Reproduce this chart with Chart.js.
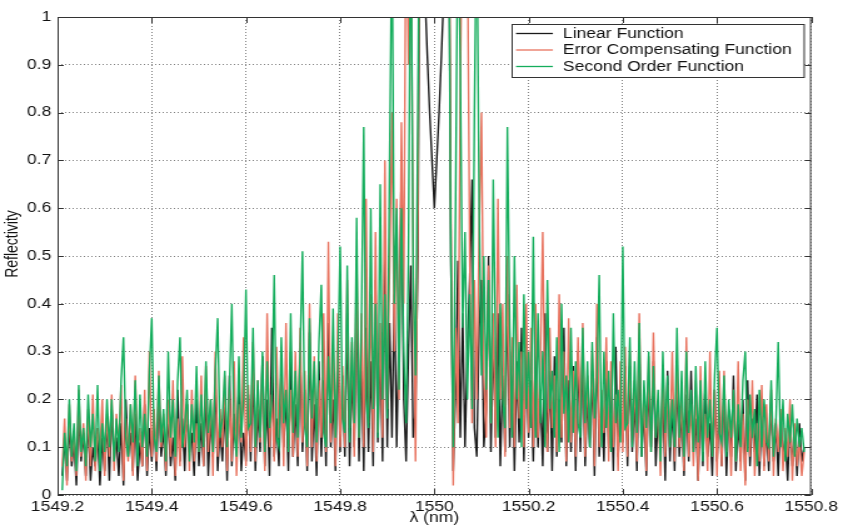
<!DOCTYPE html>
<html lang="en">
<head>
<meta charset="UTF-8">
<title>Reflectivity</title>
<script src="https://cdn.jsdelivr.net/npm/chart.js"></script>
<style>
    html, body { margin: 0; padding: 0; background: #fff; overflow: hidden; }
    /* the source figure is stretched sideways, so draw narrow and widen */
    #wrap { width: 674px; height: 532px; transform: scaleX(1.2507); transform-origin: 0 0; }
</style>
</head>
<body>
<div id="wrap"><canvas id="chart" width="674" height="532"></canvas></div>

<script>
    // sampling grid: 1549.21 .. 1550.785 nm, every 0.005 nm
    var lambdaStart = 1549.21;
    var lambdaStep = 0.005;

    var seriesNames = ['Linear Function', 'Error Compensating Function', 'Second Order Function'];

    var linearVals = [
        0.04, 0.12, 0.03, 0.15, 0.06, 0.11, 0.02, 0.17, 0.07, 0.13,
        0.04, 0.16, 0.03, 0.1, 0.06, 0.14, 0.02, 0.12, 0.05, 0.16,
        0.03, 0.18, 0.07, 0.12, 0.04, 0.15, 0.02, 0.2, 0.08, 0.13,
        0.05, 0.17, 0.03, 0.11, 0.06, 0.19, 0.04, 0.14, 0.07, 0.16,
        0.05, 0.21, 0.08, 0.14, 0.04, 0.18, 0.06, 0.12, 0.03, 0.22,
        0.07, 0.16, 0.05, 0.19, 0.09, 0.13, 0.04, 0.2, 0.06, 0.15,
        0.06, 0.22, 0.04, 0.16, 0.08, 0.24, 0.05, 0.14, 0.07, 0.19,
        0.03, 0.25, 0.06, 0.17, 0.09, 0.23, 0.05, 0.13, 0.07, 0.21,
        0.07, 0.26, 0.05, 0.18, 0.09, 0.29, 0.06, 0.2, 0.04, 0.35,
        0.08, 0.16, 0.06, 0.27, 0.1, 0.21, 0.05, 0.3, 0.08, 0.19,
        0.06, 0.3, 0.09, 0.22, 0.05, 0.34, 0.07, 0.19, 0.04, 0.28,
        0.08, 0.24, 0.06, 0.36, 0.1, 0.2, 0.05, 0.32, 0.09, 0.25,
        0.08, 0.38, 0.06, 0.26, 0.1, 0.42, 0.07, 0.3, 0.05, 0.35,
        0.09, 0.28, 0.06, 0.45, 0.11, 0.32, 0.07, 0.5, 0.1, 0.36,
        0.12, 0.42, 0.1, 0.35, 0.68, 0.2, 0.07, 0.3, 0.48, 0.12,
        0.18, 0.5, 1.4, 1.3, 1.05, 0.92, 0.8, 0.7, 0.6, 0.7,
        0.8, 0.92, 1.05, 1.3, 1.4, 0.5, 0.05, 0.22, 0.49, 0.12,
        0.38, 0.1, 0.3, 0.45, 0.66, 0.14, 0.08, 0.35, 0.45, 0.1,
        0.18, 0.5, 0.09, 0.33, 0.12, 0.38, 0.06, 0.25, 0.09, 0.42,
        0.1, 0.3, 0.05, 0.28, 0.11, 0.35, 0.07, 0.3, 0.12, 0.24,
        0.07, 0.32, 0.1, 0.22, 0.06, 0.38, 0.09, 0.26, 0.05, 0.29,
        0.08, 0.2, 0.11, 0.35, 0.06, 0.24, 0.09, 0.27, 0.05, 0.3,
        0.09, 0.3, 0.06, 0.21, 0.1, 0.26, 0.04, 0.33, 0.08, 0.19,
        0.07, 0.28, 0.1, 0.22, 0.05, 0.31, 0.08, 0.18, 0.11, 0.27,
        0.06, 0.27, 0.09, 0.2, 0.05, 0.3, 0.08, 0.18, 0.04, 0.24,
        0.1, 0.28, 0.06, 0.17, 0.09, 0.22, 0.03, 0.26, 0.07, 0.19,
        0.05, 0.25, 0.08, 0.18, 0.04, 0.21, 0.07, 0.26, 0.09, 0.16,
        0.03, 0.2, 0.06, 0.23, 0.08, 0.15, 0.04, 0.22, 0.07, 0.19,
        0.06, 0.22, 0.04, 0.17, 0.08, 0.25, 0.05, 0.15, 0.07, 0.2,
        0.03, 0.24, 0.06, 0.16, 0.09, 0.21, 0.04, 0.18, 0.06, 0.14,
        0.05, 0.2, 0.07, 0.15, 0.04, 0.17, 0.08, 0.12,
        0.03, 0.16, 0.06, 0.13, 0.04, 0.15, 0.07, 0.1
    ];

    var errorVals = [
        0.06, 0.16, 0.02, 0.19, 0.07, 0.13, 0.04, 0.22, 0.08, 0.15,
        0.03, 0.18, 0.06, 0.21, 0.05, 0.14, 0.09, 0.2, 0.04, 0.17,
        0.08, 0.21, 0.05, 0.17, 0.1, 0.23, 0.03, 0.16, 0.07, 0.19,
        0.04, 0.25, 0.09, 0.14, 0.06, 0.22, 0.05, 0.3, 0.08, 0.18,
        0.07, 0.26, 0.1, 0.17, 0.05, 0.2, 0.08, 0.24, 0.04, 0.16,
        0.06, 0.29, 0.1, 0.19, 0.05, 0.22, 0.07, 0.15, 0.09, 0.25,
        0.06, 0.27, 0.09, 0.2, 0.04, 0.3, 0.08, 0.18, 0.1, 0.25,
        0.05, 0.22, 0.07, 0.28, 0.04, 0.19, 0.11, 0.33, 0.06, 0.23,
        0.09, 0.32, 0.07, 0.24, 0.11, 0.27, 0.05, 0.38, 0.1, 0.21,
        0.07, 0.31, 0.12, 0.25, 0.06, 0.36, 0.09, 0.22, 0.08, 0.3,
        0.08, 0.35, 0.11, 0.26, 0.06, 0.4, 0.1, 0.29, 0.07, 0.24,
        0.12, 0.38, 0.09, 0.53, 0.11, 0.3, 0.06, 0.38, 0.1, 0.27,
        0.1, 0.45, 0.14, 0.32, 0.08, 0.5, 0.12, 0.38, 0.1, 0.62,
        0.15, 0.42, 0.09, 0.55, 0.13, 0.36, 0.12, 0.7, 0.18, 0.48,
        0.8, 0.3, 0.62, 0.2, 0.78, 0.4, 1.3, 0.9, 1.2, 0.5,
        0.07, 0.6, 1.6, 1.6, 1.6, 1.6, 1.6, 1.6, 1.6, 1.6,
        1.6, 1.6, 1.6, 1.6, 1.5, 0.6, 0.02, 0.35, 0.15, 0.85,
        1.3, 1.5, 1.2, 0.5, 0.15, 0.45, 0.2, 0.55, 0.8, 0.25,
        0.12, 0.48, 0.15, 0.38, 0.1, 0.62, 0.2, 0.4, 0.08, 0.5,
        0.14, 0.33, 0.1, 0.44, 0.16, 0.3, 0.1, 0.4, 0.13, 0.35,
        0.1, 0.4, 0.12, 0.28, 0.55, 0.15, 0.09, 0.35, 0.14, 0.25,
        0.09, 0.42, 0.12, 0.3, 0.07, 0.37, 0.11, 0.26, 0.08, 0.33,
        0.14, 0.36, 0.08, 0.25, 0.12, 0.3, 0.06, 0.4, 0.1, 0.22,
        0.13, 0.33, 0.07, 0.28, 0.1, 0.21, 0.05, 0.28, 0.09, 0.31,
        0.08, 0.3, 0.11, 0.24, 0.07, 0.38, 0.1, 0.21, 0.05, 0.29,
        0.09, 0.34, 0.12, 0.2, 0.04, 0.27, 0.08, 0.23, 0.1, 0.3,
        0.07, 0.28, 0.1, 0.2, 0.05, 0.33, 0.08, 0.19, 0.06, 0.24,
        0.03, 0.27, 0.09, 0.17, 0.05, 0.3, 0.08, 0.22, 0.04, 0.26,
        0.06, 0.26, 0.09, 0.18, 0.04, 0.22, 0.07, 0.28, 0.05, 0.17,
        0.02, 0.2, 0.08, 0.24, 0.04, 0.15, 0.07, 0.23, 0.05, 0.19,
        0.07, 0.22, 0.04, 0.16, 0.09, 0.18, 0.05, 0.14,
        0.08, 0.2, 0.03, 0.15, 0.06, 0.12, 0.04, 0.09
    ];

    var secondVals = [
        0.01, 0.13, 0.06, 0.2, 0.08, 0.15, 0.05, 0.23, 0.09, 0.14,
        0.06, 0.21, 0.1, 0.17, 0.07, 0.23, 0.05, 0.15, 0.09, 0.2,
        0.1, 0.2, 0.07, 0.16, 0.09, 0.24, 0.33, 0.12, 0.08, 0.19,
        0.11, 0.24, 0.06, 0.21, 0.1, 0.17, 0.08, 0.26, 0.37, 0.12,
        0.09, 0.25, 0.11, 0.18, 0.07, 0.3, 0.12, 0.2, 0.08, 0.24,
        0.33, 0.1, 0.14, 0.22, 0.07, 0.19, 0.11, 0.27, 0.09, 0.21,
        0.1, 0.28, 0.13, 0.2, 0.09, 0.26, 0.37, 0.12, 0.16, 0.26,
        0.1, 0.23, 0.4, 0.13, 0.08, 0.29, 0.12, 0.2, 0.43, 0.14,
        0.15, 0.35, 0.1, 0.24, 0.12, 0.3, 0.09, 0.28, 0.14, 0.2,
        0.46, 0.12, 0.1, 0.33, 0.15, 0.22, 0.09, 0.38, 0.13, 0.26,
        0.12, 0.3, 0.51, 0.14, 0.1, 0.37, 0.16, 0.28, 0.11, 0.32,
        0.44, 0.13, 0.1, 0.29, 0.15, 0.39, 0.12, 0.27, 0.52, 0.16,
        0.13, 0.48, 0.11, 0.33, 0.15, 0.58, 0.12, 0.35, 0.77, 0.2,
        0.14, 0.6, 0.18, 0.4, 0.12, 0.65, 0.2, 0.42, 0.16, 0.7,
        1.2, 0.4, 0.6, 0.22, 0.6, 0.3, 0.15, 0.5, 1.3, 0.45,
        0.25, 0.8, 1.5, 1.5, 1.5, 1.5, 1.5, 1.5, 1.5, 1.5,
        1.5, 1.5, 1.5, 1.5, 1.3, 0.5, 0.1, 0.6, 1.25, 0.9,
        0.35, 0.55, 0.2, 0.42, 0.18, 0.8, 1.25, 0.6, 0.25, 0.5,
        0.22, 0.45, 0.15, 0.66, 0.3, 0.12, 0.4, 0.2, 0.14, 0.77,
        0.35, 0.12, 0.5, 0.2, 0.32, 0.1, 0.42, 0.18, 0.3, 0.14,
        0.54, 0.12, 0.38, 0.15, 0.3, 0.1, 0.45, 0.18, 0.26, 0.12,
        0.33, 0.09, 0.4, 0.17, 0.25, 0.11, 0.35, 0.13, 0.28, 0.15,
        0.12, 0.35, 0.15, 0.28, 0.1, 0.32, 0.16, 0.24, 0.46, 0.1,
        0.3, 0.14, 0.26, 0.09, 0.38, 0.15, 0.22, 0.11, 0.52, 0.14,
        0.15, 0.33, 0.1, 0.28, 0.13, 0.36, 0.08, 0.24, 0.14, 0.3,
        0.09, 0.27, 0.12, 0.22, 0.07, 0.3, 0.13, 0.25, 0.1, 0.2,
        0.1, 0.35, 0.12, 0.26, 0.08, 0.3, 0.13, 0.22, 0.09, 0.27,
        0.11, 0.24, 0.07, 0.28, 0.12, 0.2, 0.08, 0.25, 0.35, 0.13,
        0.11, 0.25, 0.08, 0.2, 0.12, 0.22, 0.07, 0.19, 0.1, 0.24,
        0.3, 0.09, 0.21, 0.12, 0.18, 0.06, 0.22, 0.1, 0.2, 0.11,
        0.1, 0.24, 0.08, 0.15, 0.32, 0.1, 0.2, 0.07,
        0.17, 0.11, 0.19, 0.08, 0.16, 0.1, 0.14, 0.09
    ];

    var xTicks = [1549.2, 1549.4, 1549.6, 1549.8, 1550, 1550.2, 1550.4, 1550.6, 1550.8];
    var yTicks = [0, 0.1, 0.2, 0.3, 0.4, 0.5, 0.6, 0.7, 0.8, 0.9, 1];
    var xTitle = 'λ (nm)';
    var yTitle = 'Reflectivity';

    var lineColors = ['#1a1a1a', '#e8735f', '#14ad5c'];

    function toPoints(vals) {
        return vals.map(function (v, i) {
            return { x: +(lambdaStart + i * lambdaStep).toFixed(3), y: v };
        });
    }

    function fmt(v) {
        return String(+(+v).toFixed(1));
    }

    var font = { family: 'Liberation Sans, Arial, Helvetica, sans-serif', size: 14 };
    var fontStr = font.size + 'px ' + font.family;

    // box, inward tick marks, y title and the legend, matlab style
    var framePlugin = {
        id: 'frame',
        afterDraw: function (chart) {
            var ctx = chart.ctx;
            var a = chart.chartArea;
            var xs = chart.scales.x, ys = chart.scales.y;
            ctx.save();
            ctx.strokeStyle = '#333';
            ctx.lineWidth = 1;
            ctx.strokeRect(a.left + 0.5, a.top + 0.5, a.right - a.left - 1, a.bottom - a.top - 1);

            ctx.beginPath();
            xTicks.forEach(function (v) {
                var px = Math.round(xs.getPixelForValue(v)) + 0.5;
                ctx.moveTo(px, a.bottom); ctx.lineTo(px, a.bottom - 6);
                ctx.moveTo(px, a.top); ctx.lineTo(px, a.top + 6);
            });
            yTicks.forEach(function (v) {
                var py = Math.round(ys.getPixelForValue(v)) + 0.5;
                ctx.moveTo(a.left, py); ctx.lineTo(a.left + 5, py);
                ctx.moveTo(a.right, py); ctx.lineTo(a.right - 5, py);
            });
            ctx.stroke();

            // y title sits a bit above the middle in the source
            ctx.font = fontStr;
            ctx.fillStyle = '#111';
            ctx.textAlign = 'center';
            ctx.textBaseline = 'middle';
            ctx.save();
            ctx.translate(10.5, 244);
            ctx.rotate(-Math.PI / 2);
            ctx.fillText(yTitle, 0, 0);
            ctx.restore();

            // legend
            var lx = a.right - 240, ly = a.top + 7, lw = 233.5, lh = 53;
            ctx.fillStyle = '#fff';
            ctx.fillRect(lx, ly, lw, lh);
            ctx.strokeStyle = '#333';
            ctx.strokeRect(Math.round(lx) + 0.5, Math.round(ly) + 0.5, lw, lh);
            ctx.textAlign = 'left';
            chart.data.datasets.forEach(function (ds, i) {
                var cy = ly + 9.5 + i * 16.5;
                ctx.strokeStyle = ds.borderColor;
                ctx.lineWidth = 1.3;
                ctx.beginPath();
                ctx.moveTo(lx + 4, cy); ctx.lineTo(lx + 33.5, cy);
                ctx.stroke();
                ctx.fillStyle = '#111';
                ctx.fillText(ds.label, lx + 41.5, cy + 0.5);
            });
            ctx.restore();
        }
    };

    var ctx = document.getElementById('chart').getContext('2d');
    var myChart = new Chart(ctx, {
        type: 'line',
        data: {
            datasets: [
                { label: seriesNames[0], data: toPoints(linearVals), borderColor: lineColors[0], order: 3 },
                { label: seriesNames[1], data: toPoints(errorVals), borderColor: lineColors[1], order: 2 },
                { label: seriesNames[2], data: toPoints(secondVals), borderColor: lineColors[2], order: 1 }
            ]
        },
        options: {
            responsive: false,
            animation: false,
            devicePixelRatio: 1,
            layout: { padding: { left: 0, right: 22, top: 17, bottom: 0 } },
            elements: {
                point: { radius: 0 },
                line: { borderWidth: 1.4, tension: 0, fill: false, borderJoinStyle: 'miter' }
            },
            datasets: { line: { clip: 0 } },
            plugins: { legend: { display: false }, tooltip: { enabled: false } },
            scales: {
                x: {
                    type: 'linear',
                    min: 1549.2,
                    max: 1550.8,
                    afterBuildTicks: function (s) { s.ticks = xTicks.map(function (v) { return { value: v }; }); },
                    afterFit: function (s) { s.height = 37; },
                    grid: { color: '#808080', lineWidth: 1, drawTicks: false },
                    border: { display: false, dash: [1, 2] },
                    ticks: { padding: 4, color: '#111', font: font, autoSkip: false, maxRotation: 0, callback: fmt },
                    title: { display: true, text: xTitle, color: '#111', font: font, padding: { top: 0, bottom: 5 } }
                },
                y: {
                    min: 0,
                    max: 1,
                    afterBuildTicks: function (s) { s.ticks = yTicks.map(function (v) { return { value: v }; }); },
                    afterFit: function (s) { s.width = 46; },
                    grid: { color: '#808080', lineWidth: 1, drawTicks: false },
                    border: { display: false, dash: [1, 2] },
                    ticks: { padding: 5, color: '#111', font: font, callback: fmt },
                    title: { display: false }
                }
            }
        },
        plugins: [framePlugin]
    });
</script>
</body>
</html>
